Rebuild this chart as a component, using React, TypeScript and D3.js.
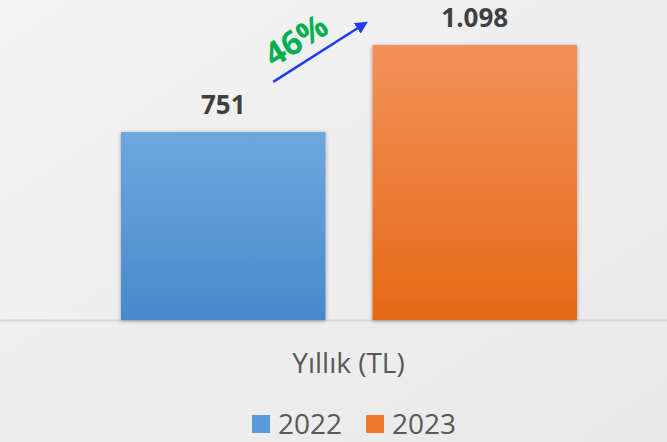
import React from "react";
import * as d3 from "d3";

const categories = ["Yıllık (TL)"];
const seriesNames = ["2022", "2023"];
const seriesValues = [751, 1098];
const valueLabels = ["751", "1.098"];
const growthLabel = "46%";
const gradTop = ["#6fa7dd", "#f3905a"];
const gradBottom = ["#4689cc", "#e46914"];
const legendColors = ["#5a9ad8", "#ee7a2c"];

const W = 667;
const H = 442;

export default function App() {
  const x0 = d3.scaleBand<string>().domain(categories).range([0, 667]);
  const x1 = d3
    .scaleBand<string>()
    .domain(seriesNames)
    .range([x0(categories[0])! + 121, x0(categories[0])! + 577])
    .paddingInner(0.187)
    .paddingOuter(0);
  const y = d3.scaleLinear().domain([0, 1098]).range([320, 45]);
  const font = "'Open Sans', 'Noto Sans', sans-serif";

  const b0 = x1(seriesNames[0])! + x1.bandwidth() / 2;
  const b1 = x1(seriesNames[1])! + x1.bandwidth() / 2;

  return (
    <svg width={W} height={H} style={{ position: "absolute", left: 0, top: 0 }}>
      <defs>
        <linearGradient id="bg" x1="0" y1="0" x2="1" y2="1">
          <stop offset="0" stopColor="#f3f3f3" />
          <stop offset="1" stopColor="#e9e9e9" />
        </linearGradient>
        {seriesNames.map((s, i) => (
          <linearGradient key={s} id={`g${i}`} x1="0" y1="0" x2="0" y2="1">
            <stop offset="0" stopColor={gradTop[i]} />
            <stop offset="1" stopColor={gradBottom[i]} />
          </linearGradient>
        ))}
        <filter id="sh" x="-10%" y="-10%" width="120%" height="120%">
          <feGaussianBlur in="SourceAlpha" stdDeviation="2" />
          <feOffset dx="0" dy="1" result="b" />
          <feComponentTransfer>
            <feFuncA type="linear" slope="0.35" />
          </feComponentTransfer>
          <feMerge>
            <feMergeNode />
            <feMergeNode in="SourceGraphic" />
          </feMerge>
        </filter>
        <marker id="ah" viewBox="0 0 10 10" refX="8" refY="5" markerWidth="5" markerHeight="5" orient="auto">
          <path d="M0,0 L10,5 L0,10 z" fill="#1f3cf5" />
        </marker>
      </defs>
      <rect width={W} height={H} fill="url(#bg)" />
      <line x1={0} x2={W} y1={y(0) + 0.5} y2={y(0) + 0.5} stroke="#d6d6d6" strokeWidth={2} />
      {seriesNames.map((s, i) => (
        <rect
          key={s}
          x={x1(s)!}
          y={y(seriesValues[i])}
          width={x1.bandwidth()}
          height={y(0) - y(seriesValues[i])}
          fill={`url(#g${i})`}
          filter="url(#sh)"
        />
      ))}
      {seriesNames.map((s, i) => (
        <text
          key={s}
          x={x1(s)! + x1.bandwidth() / 2}
          y={y(seriesValues[i]) - 18}
          textAnchor="middle"
          fontFamily={font}
          fontWeight="bold"
          fontSize={26}
          fill="#404040"
        >
          {valueLabels[i]}
        </text>
      ))}
      <line
        x1={b0 + 50}
        y1={y(seriesValues[0]) - 50}
        x2={b1 - 109}
        y2={y(seriesValues[1]) - 22}
        stroke="#1f3cf5"
        strokeWidth={2.5}
        markerEnd="url(#ah)"
      />
      <text
        transform={`translate(${(b0 + b1) / 2 - 47},${50}) rotate(-32)`}
        textAnchor="middle"
        fontFamily={font}
        fontWeight="bold"
        fontSize={33}
        fill="#00b050"
      >
        {growthLabel}
      </text>
      <text
        x={x0(categories[0])! + x0.bandwidth() / 2 + 15}
        y={373}
        textAnchor="middle"
        fontFamily={font}
        fontSize={28}
        fill="#595959"
      >
        {categories[0]}
      </text>
      {seriesNames.map((s, i) => {
        const lx = 252 + i * 114;
        return (
          <g key={s}>
            <rect x={lx} y={415} width={18} height={18} fill={legendColors[i]} />
            <text x={lx + 26} y={434} fontFamily={font} fontSize={28} fill="#595959">
              {s}
            </text>
          </g>
        );
      })}
    </svg>
  );
}
